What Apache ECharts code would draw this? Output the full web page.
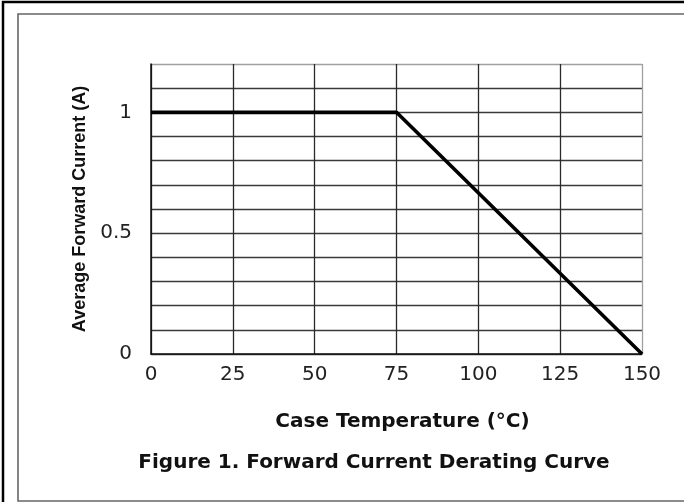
<!DOCTYPE html>
<html>
<head>
<meta charset="utf-8">
<script src="https://cdn.jsdelivr.net/npm/echarts@6/dist/echarts.min.js"></script>
<style>
  html, body { margin: 0; padding: 0; background: #fff; }
  #chart { width: 684px; height: 502px; }
</style>
</head>
<body>
<div id="chart"></div>
<script>
// Data
const caseTemperature = [0, 75, 150];
const forwardCurrent = [1, 1, 0];
const xTickLabels = [0, 25, 50, 75, 100, 125, 150];
const yTickLabels = [0, 0.5, 1];
const xTitle = 'Case Temperature (°C)';
const yTitle = 'Average Forward Current (A)';
const caption = 'Figure 1. Forward Current Derating Curve';

const seriesData = caseTemperature.map((t, i) => [t, forwardCurrent[i]]);

// split line colors: inner lines dark, outermost (max) line lighter
const yLineColors = [];
for (let i = 0; i <= 12; i++) yLineColors.push(i === 12 ? '#a0a0a0' : '#3a3a3a');
const xLineColors = xTickLabels.map((v, i) => i === xTickLabels.length - 1 ? '#a0a0a0' : '#2a2a2a');

const chart = echarts.init(document.getElementById('chart'), null, { renderer: 'canvas' });
chart.setOption({
  animation: false,
  backgroundColor: '#fff',
  grid: { left: 151, top: 64, right: 42, bottom: 148, containLabel: false },
  xAxis: {
    type: 'value',
    min: xTickLabels[0],
    max: xTickLabels[xTickLabels.length - 1],
    interval: 25,
    name: xTitle,
    nameLocation: 'middle',
    nameGap: 58,
    nameTextStyle: { fontFamily: 'DejaVu Sans', fontWeight: 'bold', fontSize: 20, color: '#111', padding: [0, 0, 0, 12] },
    axisLine: { show: true, lineStyle: { color: '#111', width: 1.5 } },
    axisTick: { show: false },
    axisLabel: {
      margin: 11,
      fontFamily: 'DejaVu Sans', fontSize: 20, color: '#222',
      formatter: v => xTickLabels.indexOf(v) >= 0 ? String(v) : ''
    },
    splitLine: { show: true, lineStyle: { color: xLineColors, width: 1.3 } }
  },
  yAxis: {
    type: 'value',
    min: 0,
    max: 1.2,
    interval: 0.1,
    name: yTitle,
    nameLocation: 'middle',
    nameRotate: 90,
    nameGap: 55,
    nameTextStyle: { fontFamily: "'Liberation Sans', Arial, sans-serif", fontWeight: 'bold', fontSize: 18, color: '#111' },
    axisLine: { show: true, lineStyle: { color: '#111', width: 1.5 } },
    axisTick: { show: false },
    axisLabel: {
      margin: 19,
      fontFamily: 'DejaVu Sans', fontSize: 20, color: '#222',
      formatter: v => {
        const hit = yTickLabels.find(t => Math.abs(t - v) < 1e-9);
        return hit !== undefined ? String(hit) : '';
      }
    },
    splitLine: { show: true, lineStyle: { color: yLineColors, width: 1.3 } }
  },
  graphic: [
    { type: 'rect', silent: true, z: 100,
      shape: { x: 3, y: 2, width: 720, height: 540 },
      style: { fill: 'none', stroke: '#000', lineWidth: 2.5 } },
    { type: 'rect', silent: true, z: 100,
      shape: { x: 18, y: 14, width: 720, height: 487 },
      style: { fill: 'none', stroke: '#666', lineWidth: 1.6 } },
    { type: 'text', silent: true, z: 100,
      x: 374, y: 463,
      style: { text: caption, fontFamily: 'DejaVu Sans', fontWeight: 'bold', fontSize: 20, fill: '#111', align: 'center', verticalAlign: 'middle' } }
  ],
  series: [{
    type: 'line',
    data: seriesData,
    showSymbol: false,
    symbol: 'none',
    lineStyle: { color: '#000', width: 3.6 },
    z: 10
  }]
});
</script>
</body>
</html>
